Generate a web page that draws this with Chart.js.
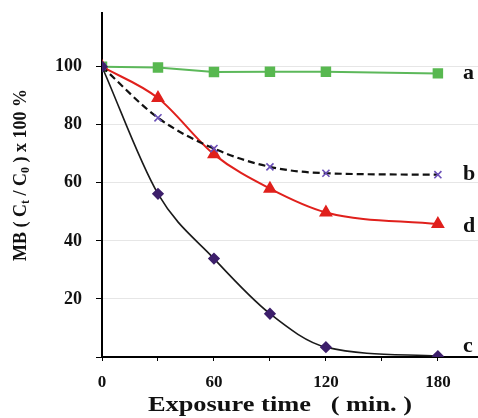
<!DOCTYPE html>
<html>
<head>
<meta charset="utf-8">
<script src="https://cdn.jsdelivr.net/npm/chart.js@4.4.1/dist/chart.umd.min.js"></script>
<style>
  html, body { margin: 0; padding: 0; background: #fff; }
  #wrap { width: 478px; height: 418px; }
</style>
</head>
<body>
<div id="wrap"><canvas id="mbChart"></canvas></div>
<script>
// exposure time (min.)
const times = [0, 30, 60, 90, 120, 180];
// MB (Ct/C0) x 100 %
const seriesA = [100, 99.7, 98.2, 98.3, 98.3, 97.7];
const seriesB = [100, 82.4, 71.8, 65.5, 63.3, 62.8];
const seriesC = [100, 56.2, 33.9, 14.9, 3.4, 0.3];
const seriesD = [100, 89.2, 69.8, 58.0, 49.8, 45.8];
const curveNames = ['a', 'b', 'c', 'd'];
const xTicks = [0, 30, 60, 90, 120, 150, 180];
const xTickLabels = [0, 60, 120, 180];
const yTicks = [0, 20, 40, 60, 80, 100];
const yTickLabels = [20, 40, 60, 80, 100];

const serif = "'Liberation Serif', 'Times New Roman', serif";

function pts(values) {
    return values.map((v, i) => ({ x: times[i], y: v }));
}

// curve letters at the right end + axis titles with subscripts
const annotations = {
    id: 'annotations',
    afterDraw(chart) {
        const c = chart.ctx;
        const xs = chart.scales.x, ys = chart.scales.y;
        const ends = { a: seriesA, b: seriesB, c: seriesC, d: seriesD };
        const nudge = { a: 0, b: 0, c: -10, d: 2 };
        c.save();
        c.fillStyle = '#111';
        c.font = 'bold 22px ' + serif;
        c.textAlign = 'left';
        c.textBaseline = 'middle';
        curveNames.forEach(n => {
            const last = ends[n][ends[n].length - 1];
            c.fillText(n, xs.getPixelForValue(180) + 25, ys.getPixelForValue(last) + nudge[n]);
        });

        // x title, glyphs widened like the source figure
        c.save();
        c.translate(280, 406);
        c.scale(1.32, 1);
        c.font = 'bold 20px ' + serif;
        c.textAlign = 'center';
        c.fillText('Exposure time   ( min. )', 0, 0);
        c.restore();

        // y title, rotated, with subscripts
        c.translate(21, 175);
        c.rotate(-Math.PI / 2);
        const big = 'bold 18px ' + serif, small = 'bold 12px ' + serif;
        const parts = [['MB ( C', big, 0], ['t', small, 5], [' / C', big, 0], ['0', small, 5], [' ) x 100 %', big, 0]];
        let w = 0;
        parts.forEach(p => { c.font = p[1]; w += c.measureText(p[0]).width; });
        let x = -w / 2;
        c.textAlign = 'left';
        parts.forEach(p => {
            c.font = p[1];
            c.fillText(p[0], x, p[2]);
            x += c.measureText(p[0]).width;
        });
        c.restore();
    }
};

const ctx = document.getElementById('mbChart').getContext('2d');
const mbChart = new Chart(ctx, {
    type: 'line',
    data: {
        datasets: [{
            label: 'c',
            data: pts(seriesC),
            borderColor: '#1a1a1a',
            borderWidth: 1.6,
            cubicInterpolationMode: 'monotone',
            pointStyle: 'rectRot',
            pointRadius: 5,
            pointBackgroundColor: '#3d1f6b',
            pointBorderColor: '#3d1f6b'
        }, {
            label: 'b',
            data: pts(seriesB),
            borderColor: '#111',
            borderWidth: 2.2,
            borderDash: [7, 4],
            cubicInterpolationMode: 'monotone',
            pointStyle: 'crossRot',
            pointRadius: 5,
            pointBorderWidth: 1.6,
            pointBorderColor: '#6a4fb8'
        }, {
            label: 'd',
            data: pts(seriesD),
            borderColor: '#e0201c',
            borderWidth: 2,
            cubicInterpolationMode: 'monotone',
            pointStyle: 'triangle',
            pointRadius: 6,
            pointBackgroundColor: '#e0201c',
            pointBorderColor: '#e0201c'
        }, {
            label: 'a',
            data: pts(seriesA),
            borderColor: '#5cb85a',
            borderWidth: 2,
            tension: 0,
            pointStyle: 'rect',
            pointRadius: 6,
            pointBackgroundColor: '#58b850',
            pointBorderColor: '#58b850'
        }]
    },
    options: {
        responsive: true,
        maintainAspectRatio: false,
        animation: false,
        layout: { autoPadding: false, padding: { top: 13, right: 0, left: 0, bottom: 0 } },
        scales: {
            x: {
                type: 'linear',
                min: 0,
                max: 201.5,
                afterBuildTicks: s => { s.ticks = xTicks.map(v => ({ value: v })); },
                afterFit: s => { s.height = 61; s.paddingLeft = 0; s.paddingRight = 0; },
                border: { color: '#000', width: 2 },
                grid: {
                    drawOnChartArea: false,
                    tickLength: 4,
                    tickColor: '#000'
                },
                ticks: {
                    autoSkip: false,
                    maxRotation: 0,
                    padding: 11,
                    color: '#111',
                    font: { family: serif, size: 17, weight: 'bold' },
                    callback: v => xTickLabels.includes(v) ? v : ''
                }
            },
            y: {
                min: 0,
                max: 118.5,
                afterBuildTicks: s => { s.ticks = yTicks.map(v => ({ value: v })); },
                afterFit: s => { s.width = 102; s.paddingTop = 0; s.paddingBottom = 0; },
                border: { color: '#000', width: 2 },
                grid: {
                    tickLength: 6,
                    color: t => yTickLabels.includes(t.tick.value) ? '#e6e6e6' : 'transparent',
                    tickColor: '#000'
                },
                ticks: {
                    padding: 14,
                    color: '#111',
                    font: { family: serif, size: 18, weight: 'bold' },
                    callback: v => yTickLabels.includes(v) ? v : ''
                }
            }
        },
        plugins: {
            legend: { display: false },
            tooltip: { enabled: false }
        }
    },
    plugins: [annotations]
});
</script>
</body>
</html>
